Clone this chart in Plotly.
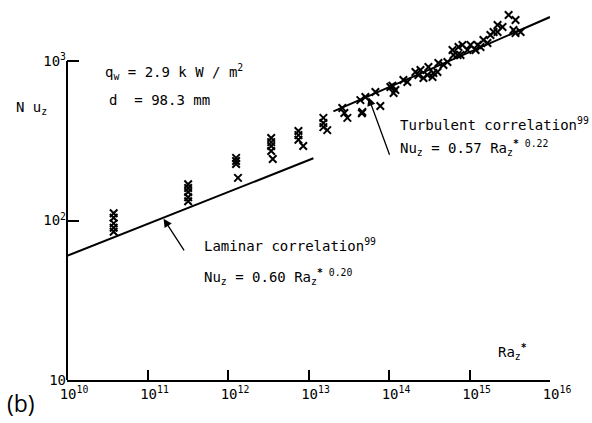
import numpy as np
import plotly.graph_objects as go

# Measured local Nusselt numbers against modified Rayleigh number
ra_data = [
    3.8e10, 3.8e10, 3.8e10, 3.8e10, 3.8e10,
    3.2e11, 3.2e11, 3.2e11, 3.2e11, 3.2e11,
    1.26e12, 1.26e12, 1.26e12, 1.33e12,
    3.44e12, 3.44e12, 3.44e12, 3.44e12, 3.6e12,
    7.5e12, 7.5e12, 7.5e12, 8.6e12,
    1.53e13, 1.53e13, 1.53e13, 1.71e13,
    2.63e13, 2.79e13, 3.04e13,
    4.41e13, 4.67e13, 4.6e13, 5.09e13, 7.8e13, 6.78e13,
    1.04e14, 1.20e14, 1.14e14, 1.1e14, 1.51e14, 1.69e14,
    2.13e14, 2.32e14, 2.68e14, 2.46e14, 3.0e14, 3.47e14,
    3.09e14, 3.56e14, 4.0e14, 4.11e14, 4.75e14, 5.32e14,
    6.32e14, 6.15e14, 7.3e14, 8.18e14, 9.44e14, 7.73e14, 7.1e14,
    1.03e15, 1.19e15, 1.26e15, 1.49e15, 1.82e15, 1.99e15, 1.67e15, 1.37e15,
    2.23e15, 2.57e15, 3.06e15, 3.73e15, 3.52e15, 4.31e15, 3.73e15, 2.23e15,
]
nu_data = [
    111, 104, 96, 90, 85,
    169, 160, 151, 140, 132,
    247, 236, 226, 185,
    329, 310, 293, 273, 243,
    364, 343, 321, 293,
    440, 409, 385, 369,
    507, 472, 440,
    569, 479, 470, 595, 522, 640,
    687, 658, 630, 700, 760, 738,
    853, 817, 782, 878, 817, 794,
    917, 841, 853, 971, 944, 986,
    1091, 1172, 1224, 1259, 1172, 1091, 1091,
    1259, 1172, 1259, 1355, 1456, 1521, 1297, 1224,
    1682, 1633, 1942, 1807, 1565, 1521, 1500, 1521,
]

# Correlations: Nu_z = C * Ra_z*^n
lam_c, lam_n = 0.60, 0.20
lam_ra = [1e10, 1.15e13]
turb_c, turb_n = 0.57, 0.22
turb_ra = [2.04e13, 1e16]

x_ticks = [1e10, 1e11, 1e12, 1e13, 1e14, 1e15, 1e16]
x_ticktext = ["10<sup>10</sup>", "10<sup>11</sup>", "10<sup>12</sup>", "10<sup>13</sup>",
              "10<sup>14</sup>", "10<sup>15</sup>", "10<sup>16</sup>"]
y_ticks = [10, 100, 1000]
y_ticktext = ["10", "10<sup>2</sup>", "10<sup>3</sup>"]

FONT = "DejaVu Sans Mono"


def corr(c, n, ra):
    ra = np.asarray(ra, dtype=float)
    return c * ra ** n


fig = go.Figure()

fig.add_trace(go.Scatter(
    x=lam_ra, y=corr(lam_c, lam_n, lam_ra), mode="lines",
    line=dict(color="black", width=2), showlegend=False, hoverinfo="skip"))
fig.add_trace(go.Scatter(
    x=turb_ra, y=corr(turb_c, turb_n, turb_ra), mode="lines",
    line=dict(color="black", width=2), showlegend=False, hoverinfo="skip",
    cliponaxis=False))
fig.add_trace(go.Scatter(
    x=ra_data, y=nu_data, mode="markers",
    marker=dict(symbol="x-thin", size=7.5, line=dict(color="black", width=2)),
    showlegend=False, cliponaxis=False))

# Left axis line only runs from 10 to 10^3
fig.add_shape(type="line", xref="paper", x0=0, x1=0, yref="y", y0=10, y1=1000,
              line=dict(color="black", width=2))

txt = dict(family=FONT, size=14, color="black")


def note(text, px, py, xanchor="left", size=14):
    fig.add_annotation(text=text, xref="paper", yref="paper",
                       x=(px - 67) / 483, y=(380 - py) / 370,
                       xanchor=xanchor, yanchor="middle", showarrow=False,
                       font=dict(family=FONT, size=size, color="black"))


note("q<sub>w</sub> = 2.9 k W / m<sup>2</sup>", 103, 72)
note("d  = 98.3 mm", 107, 100)
note("N u<sub>z</sub>", 14, 108)
note("Turbulent correlation<sup>99</sup>", 398, 124)
note("Nu<sub>z</sub> = 0.57 Ra<sub>z</sub><sup><b>*</b> 0.22</sup>", 398, 148)
note("Laminar correlation<sup>99</sup>", 202, 245)
note("Nu<sub>z</sub> = 0.60 Ra<sub>z</sub><sup><b>*</b> 0.20</sup>", 202, 277)
note("Ra<sub>z</sub><sup><b>*</b></sup>", 496, 352)

fig.add_annotation(text="(b)", xref="paper", yref="paper",
                   x=(5 - 67) / 483, y=(380 - 403) / 370, xanchor="left", yanchor="middle",
                   showarrow=False, font=dict(family="Open Sans", size=23, color="black"))

# Arrows pointing at the correlation lines
for c, n, ra_pt, dx, dy in [(turb_c, turb_n, 5.5e13, 22, 60), (lam_c, lam_n, 1.56e11, 22, 34)]:
    fig.add_annotation(x=np.log10(ra_pt), y=np.log10(c * ra_pt ** n), xref="x", yref="y",
                       ax=dx, ay=dy, text="", showarrow=True, arrowhead=2, arrowsize=1.3,
                       arrowwidth=1.3, arrowcolor="black", standoff=1)

fig.update_xaxes(type="log", range=[10, 16], tickvals=x_ticks, ticktext=x_ticktext,
                 ticks="inside", ticklen=10, tickwidth=1.5, tickcolor="black",
                 showline=True, linecolor="black", linewidth=2, showgrid=False,
                 zeroline=False, tickfont=txt, ticklabelshift=7)
fig.update_yaxes(type="log", range=[1, 3.32], tickvals=y_ticks, ticktext=y_ticktext,
                 ticks="inside", ticklen=12, tickwidth=1.5, tickcolor="black",
                 showline=False, showgrid=False, zeroline=False, tickfont=txt)

fig.update_layout(width=592, height=423, margin=dict(l=67, r=42, t=10, b=43),
                  paper_bgcolor="white", plot_bgcolor="white", showlegend=False)

fig.write_html("out.html")
